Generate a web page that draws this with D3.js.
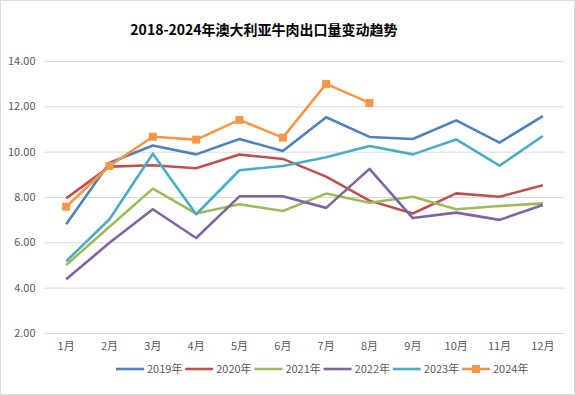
<!DOCTYPE html>
<html><head><meta charset="utf-8">
<script src="https://cdn.jsdelivr.net/npm/d3@7"></script>
<style>body{margin:0;background:#fff}svg{display:block}</style>
</head><body>
<svg id="c" width="575" height="395"></svg>
<script>
const months = ["1月","2月","3月","4月","5月","6月","7月","8月","9月","10月","11月","12月"];
const yTicks = [2,4,6,8,10,12,14];
const s2019 = [6.80,9.51,10.27,9.88,10.56,10.03,11.52,10.65,10.56,11.38,10.40,11.57];
const s2020 = [7.94,9.34,9.40,9.27,9.87,9.68,8.90,7.84,7.27,8.16,8.01,8.52];
const s2021 = [5.00,6.69,8.37,7.27,7.68,7.38,8.15,7.75,8.01,7.46,7.60,7.72];
const s2022 = [4.37,5.98,7.46,6.19,8.03,8.03,7.52,9.24,7.07,7.31,6.99,7.65];
const s2023 = [5.16,7.02,9.91,7.24,9.18,9.37,9.75,10.25,9.88,10.54,9.38,10.69];
const s2024 = [7.57,9.37,10.66,10.53,11.40,10.62,12.99,12.15];
const seriesNames = ["2019年","2020年","2021年","2022年","2023年","2024年"];
const colors = ["#4F81BD","#C0504D","#9BBB59","#8064A2","#4BACC6","#F79646"];
const seriesData = [s2019,s2020,s2021,s2022,s2023,s2024];

const svg = d3.select("#c");
const font = "'Noto Sans CJK SC','Microsoft YaHei',sans-serif";
svg.append("rect").attr("x",0.5).attr("y",0.5).attr("width",574).attr("height",394)
  .attr("fill","#fff").attr("stroke","#D9D9D9");

svg.append("text").attr("x",264).attr("y",35).attr("text-anchor","middle")
  .attr("font-family",font).attr("font-weight","bold").attr("font-size",14)
  .attr("fill","#000").text("2018-2024年澳大利亚牛肉出口量变动趋势");

const x = d3.scaleBand().domain(months).range([44.5,564.5]);
const y = d3.scaleLinear().domain([2,14]).range([333,61]);

const gy = svg.append("g").attr("transform","translate(44.5,0)")
  .call(d3.axisLeft(y).tickValues(yTicks).tickFormat(d3.format(".2f")).tickSize(-520).tickPadding(9));
gy.select(".domain").remove();
gy.selectAll(".tick line").attr("stroke","#D9D9D9");
gy.selectAll(".tick text").attr("fill","#595959").attr("font-family",font).attr("font-size",11);

const gx = svg.append("g").attr("transform","translate(0,333)")
  .call(d3.axisBottom(x).tickSize(0).tickPadding(9));
gx.select(".domain").attr("stroke","#D9D9D9");
gx.selectAll(".tick text").attr("fill","#595959").attr("font-family",font).attr("font-size",11);

const line = d3.line().x((d,i)=>x(months[i])+x.bandwidth()/2).y(d=>y(d));
seriesData.forEach((s,k)=>{
  svg.append("path").datum(s).attr("d",line).attr("fill","none")
    .attr("stroke",colors[k]).attr("stroke-width",2.6).attr("stroke-linejoin","round");
});
svg.selectAll("rect.mk").data(s2024).enter().append("rect").attr("class","mk")
  .attr("x",(d,i)=>x(months[i])+x.bandwidth()/2-4).attr("y",d=>y(d)-4)
  .attr("width",8).attr("height",8).attr("fill",colors[5]);

const lg = svg.append("g");
seriesNames.forEach((n,k)=>{
  const lx = 116 + k*69.2, ly = 369;
  lg.append("line").attr("x1",lx).attr("x2",lx+28).attr("y1",ly).attr("y2",ly)
    .attr("stroke",colors[k]).attr("stroke-width",2.6);
  if(k===5) lg.append("rect").attr("x",lx+10).attr("y",ly-4).attr("width",8).attr("height",8).attr("fill",colors[5]);
  lg.append("text").attr("x",lx+31).attr("y",ly+4).attr("font-family",font).attr("font-size",11)
    .attr("fill","#595959").text(n);
});
</script>
</body></html>
